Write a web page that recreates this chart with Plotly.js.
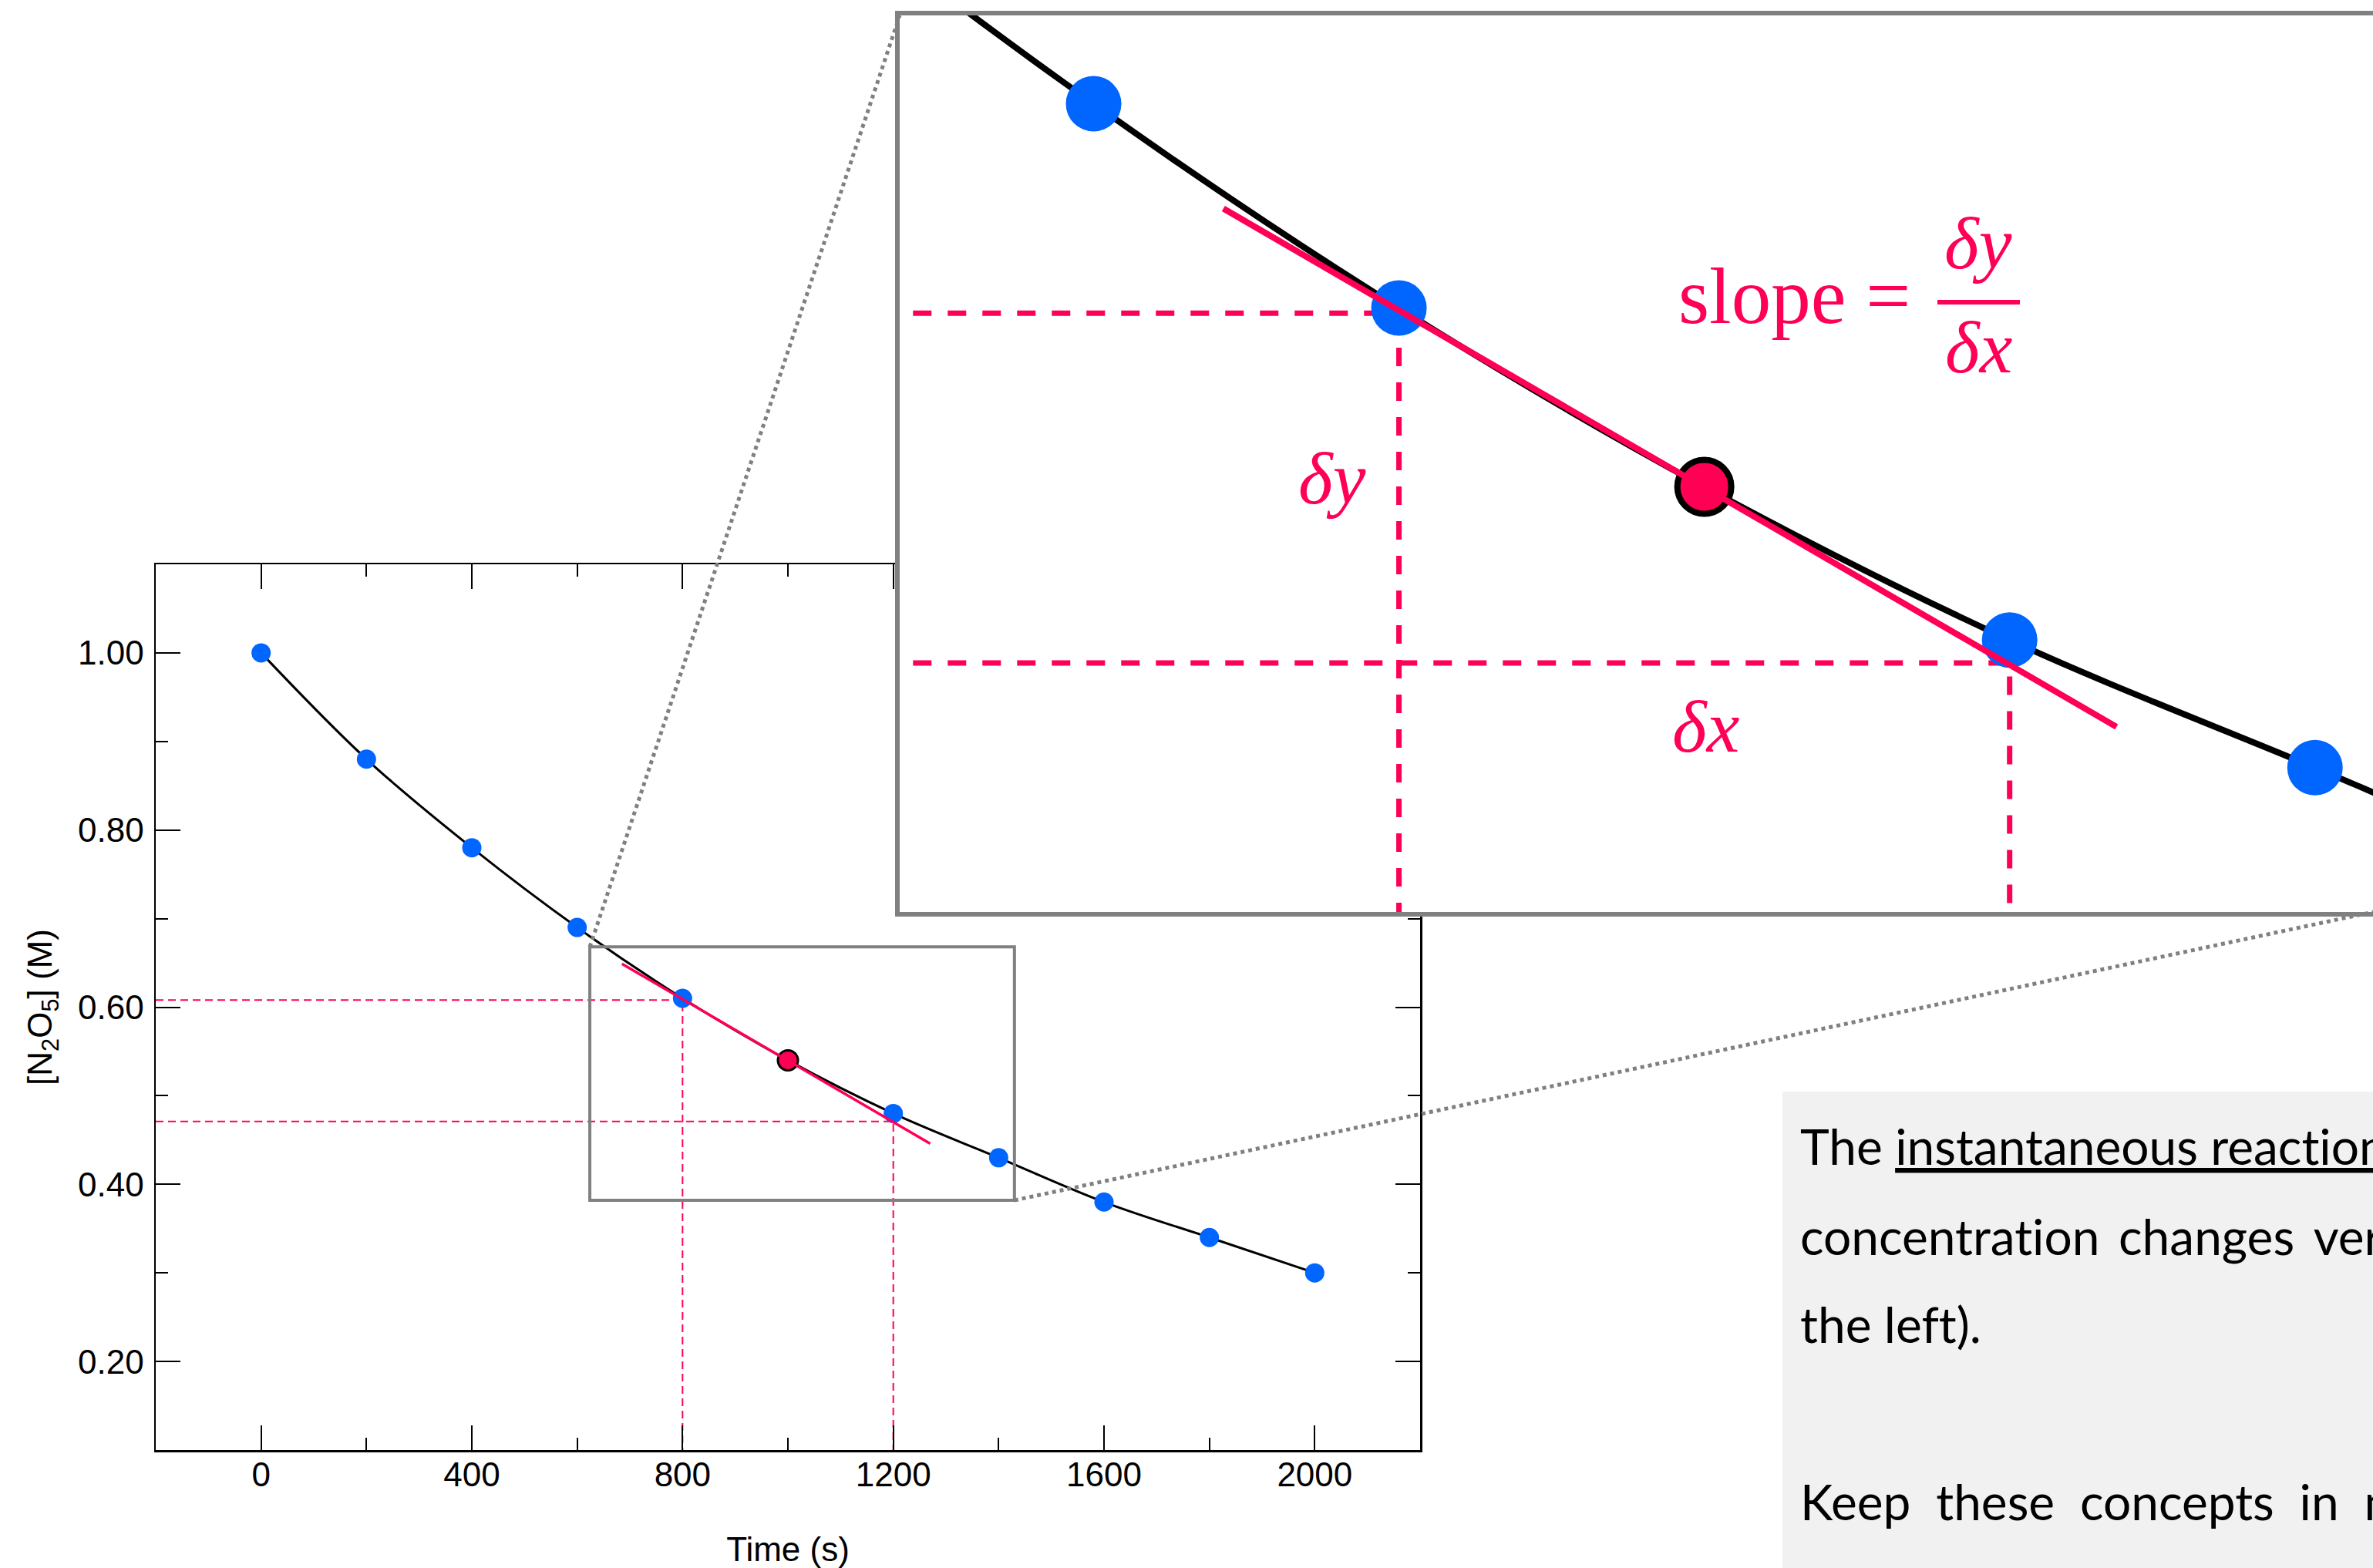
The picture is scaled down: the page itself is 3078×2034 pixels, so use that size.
<!DOCTYPE html>
<html>
<head>
<meta charset="utf-8">
<script src="https://cdn.plot.ly/plotly-3.0.1.min.js"></script>
<style>
html,body{margin:0;padding:0;background:#ffffff;}
#chart{width:3078px;height:2034px;}
#chart text{font-variant-ligatures:none !important;font-feature-settings:"liga" 0, "clig" 0 !important;}
</style>
</head>
<body>
<div id="chart"></div>
<script>
// ---------------- data ----------------
const timeS      = [0, 200, 400, 600, 800, 1000, 1200, 1400, 1600, 1800, 2000];
const concN2O5   = [1.00, 0.88, 0.78, 0.69, 0.61, 0.54, 0.48, 0.43, 0.38, 0.34, 0.30];
const highlightTime = 1000;               // point where the tangent touches
const tangentX   = [685, 1270];
const tangentY   = [0.649, 0.446];
const chordX     = [800, 1200];           // delta-x limits
const chordY     = [0.608, 0.471];        // tangent values at chordX
const zoomBoxX   = [624, 1430];
const zoomBoxY   = [0.382, 0.668];
const xTickVals  = [0, 400, 800, 1200, 1600, 2000];
const yTickVals  = [0.2, 0.4, 0.6, 0.8, 1.0];
const yTickText  = ['0.20', '0.40', '0.60', '0.80', '1.00'];
const GAP = ' <span style="font-size:32px">\u00a0</span>';
const textLines  = [
  'The <u>instantaneous reaction</u>',
  'concentration' + GAP + 'changes' + GAP + 'versus',
  'the left).',
  'Keep\u00a0 these\u00a0 concepts\u00a0 in\u00a0 mind'
];

// ---------------- styling / layout helpers ----------------
const W = 3078, H = 2034;
const px = v => v / W, py = v => 1 - v / H;
const BLUE = '#0066ff', RED = '#ff0055', GRAY = '#808080';
const mainXRange = [-200, 2200], mainYRange = [0.1, 1.1];
const insetXRange = [473, 1438], insetYRange = [0.3735, 0.7246];
const mainDomX = [px(202), px(1842)], mainDomY = [py(1881), py(732)];
const insetDomX = [px(1167), 1], insetDomY = [py(1183), py(20)];

function mainToPaper(x, y) {
  return [
    mainDomX[0] + (x - mainXRange[0]) / (mainXRange[1] - mainXRange[0]) * (mainDomX[1] - mainDomX[0]),
    mainDomY[0] + (y - mainYRange[0]) / (mainYRange[1] - mainYRange[0]) * (mainDomY[1] - mainDomY[0])
  ];
}

const markerColors = timeS.map(t => t === highlightTime ? RED : BLUE);
const markerLineW  = timeS.map(t => t === highlightTime ? 1 : 0);

// dashed guide lines built from chord arrays
const guideX = [], guideY = [];
chordX.forEach((cx, i) => {
  guideX.push(mainXRange[0], cx, cx, null);
  guideY.push(chordY[i], chordY[i], mainYRange[0], null);
});

function makeTraces(xa, ya, s) {
  return [
    {x: guideX, y: guideY, xaxis: xa, yaxis: ya, mode: 'lines', connectgaps: false,
     line: {color: RED, width: s.dashW, dash: s.dash}, hoverinfo: 'skip'},
    {x: timeS, y: concN2O5, xaxis: xa, yaxis: ya, mode: 'lines',
     line: {color: '#000000', width: s.curveW, shape: 'spline', smoothing: 1}, hoverinfo: 'skip'},
    {x: timeS, y: concN2O5, xaxis: xa, yaxis: ya, mode: 'markers',
     marker: {color: markerColors, opacity: 1,
              size: timeS.map(t => t === highlightTime ? s.redSize : s.size),
              line: {color: '#000000', width: markerLineW.map(v => v * s.redLine)}}, hoverinfo: 'skip'},
    {x: tangentX, y: tangentY, xaxis: xa, yaxis: ya, mode: 'lines',
     line: {color: RED, width: s.tanW}, hoverinfo: 'skip'}
  ];
}

const data = [].concat(
  makeTraces('x', 'y', {dashW: 2, dash: '10px,6px', curveW: 3, size: 25, redSize: 26, redLine: 3, tanW: 3.5}),
  makeTraces('x2', 'y2', {dashW: 7, dash: '24px,21px', curveW: 8, size: 72, redSize: 70, redLine: 8, tanW: 8})
);

const tickFont = {family: '"Liberation Sans", Arial, sans-serif', size: 44, color: '#000000'};

const [bl, bb] = mainToPaper(zoomBoxX[0], zoomBoxY[1]);   // top-left of zoom box
const [br, bbot] = mainToPaper(zoomBoxX[1], zoomBoxY[0]); // bottom-right of zoom box

const mathFont = {family: '"Liberation Serif", "DejaVu Serif", serif', size: 103, color: RED};
const mathItalic = Object.assign({}, mathFont, {size: 96, style: 'italic'});
const textFont = {family: 'Lato, "Open Sans", sans-serif', size: 64, color: '#000000'};
const textCentres = [1486, 1603, 1717, 1947];

const layout = {
  width: W, height: H,
  margin: {l: 0, r: 0, t: 0, b: 0},
  paper_bgcolor: '#ffffff', plot_bgcolor: '#ffffff',
  showlegend: false, hovermode: false,
  xaxis: {
    domain: mainDomX, range: mainXRange, anchor: 'y',
    tickvals: xTickVals, ticks: 'inside', ticklen: 32, tickwidth: 2, tickcolor: '#000000',
    minor: {dtick: 200, tick0: 0, ticks: 'inside', ticklen: 16, tickwidth: 2, tickcolor: '#000000'},
    showline: true, linecolor: '#000000', linewidth: 2.5, mirror: 'ticks',
    showgrid: false, zeroline: false, tickfont: tickFont, ticklabelstandoff: -8,
    title: {text: 'Time (s)', font: tickFont, standoff: 58}
  },
  yaxis: {
    domain: mainDomY, range: mainYRange, anchor: 'x',
    tickvals: yTickVals, ticktext: yTickText, ticks: 'inside', ticklen: 32, tickwidth: 2, tickcolor: '#000000',
    minor: {dtick: 0.1, tick0: 0.1, ticks: 'inside', ticklen: 16, tickwidth: 2, tickcolor: '#000000'},
    showline: true, linecolor: '#000000', linewidth: 2.5, mirror: 'ticks',
    showgrid: false, zeroline: false, tickfont: tickFont, ticklabelstandoff: 4,
    title: {text: '[N<sub>2</sub>O<sub>5</sub>] (M)', font: tickFont, standoff: 20}
  },
  xaxis2: {
    domain: insetDomX, range: insetXRange, anchor: 'y2',
    showticklabels: false, ticks: '', showgrid: false, zeroline: false,
    showline: true, linecolor: GRAY, linewidth: 6, mirror: true
  },
  yaxis2: {
    domain: insetDomY, range: insetYRange, anchor: 'x2',
    showticklabels: false, ticks: '', showgrid: false, zeroline: false,
    showline: true, linecolor: GRAY, linewidth: 6, mirror: false
  },
  shapes: [
    {type: 'rect', xref: 'paper', yref: 'paper', x0: px(2312), x1: 1.02, y0: py(1416), y1: -0.02,
     fillcolor: '#f1f1f1', line: {width: 0}, layer: 'below'},
    {type: 'rect', xref: 'x', yref: 'y', x0: zoomBoxX[0], x1: zoomBoxX[1], y0: zoomBoxY[0], y1: zoomBoxY[1],
     line: {color: GRAY, width: 4}, layer: 'above'},
    {type: 'line', xref: 'paper', yref: 'paper', x0: bl, y0: bb, x1: insetDomX[0], y1: insetDomY[1],
     line: {color: GRAY, width: 5, dash: 'dot'}, layer: 'above'},
    {type: 'line', xref: 'paper', yref: 'paper', x0: br, y0: bbot, x1: insetDomX[1], y1: insetDomY[0],
     line: {color: GRAY, width: 5, dash: 'dot'}, layer: 'above'},
    {type: 'line', xref: 'paper', yref: 'paper', x0: px(2513), x1: px(2620), y0: py(392), y1: py(392),
     line: {color: RED, width: 6}, layer: 'above'}
  ],
  annotations: [
    {xref: 'paper', yref: 'paper', x: px(2480), y: py(384), xanchor: 'right', yanchor: 'middle',
     text: 'slope =', showarrow: false, font: mathFont},
    {xref: 'paper', yref: 'paper', x: px(2566), y: py(315), xanchor: 'center', yanchor: 'middle',
     text: '\u03b4y', showarrow: false, font: mathItalic},
    {xref: 'paper', yref: 'paper', x: px(2566), y: py(450), xanchor: 'center', yanchor: 'middle',
     text: '\u03b4x', showarrow: false, font: mathItalic},
    {xref: 'paper', yref: 'paper', x: px(1728), y: py(621), xanchor: 'center', yanchor: 'middle',
     text: '\u03b4y', showarrow: false, font: mathItalic},
    {xref: 'paper', yref: 'paper', x: px(2212), y: py(943), xanchor: 'center', yanchor: 'middle',
     text: '\u03b4x', showarrow: false, font: mathItalic}
  ].concat(textLines.map((t, i) => ({
     xref: 'paper', yref: 'paper', x: px(2333), y: py(textCentres[i]), xanchor: 'left', yanchor: 'middle',
     text: t, showarrow: false, font: textFont, align: 'left'
  })))
};

Plotly.newPlot('chart', data, layout, {staticPlot: true, displayModeBar: false});
</script>
</body>
</html>
